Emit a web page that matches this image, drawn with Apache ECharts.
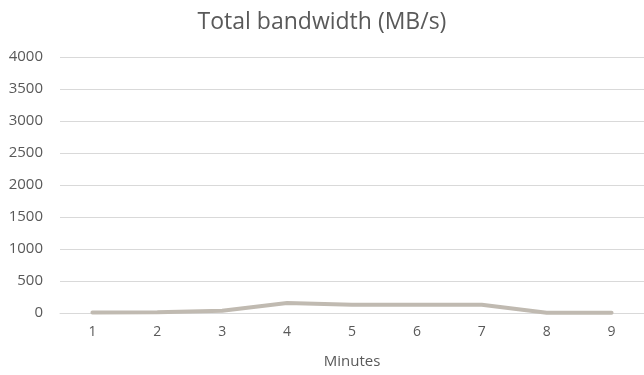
<!DOCTYPE html>
<html>
<head>
<meta charset="utf-8">
<script src="https://cdn.jsdelivr.net/npm/echarts@6/dist/echarts.min.js"></script>
<style>
  html, body { margin: 0; padding: 0; background: #fff; }
  #chart { width: 644px; height: 375px; }
</style>
</head>
<body>
<div id="chart"></div>
<script>
var minutes = ['1', '2', '3', '4', '5', '6', '7', '8', '9'];
var bandwidth = [8, 10, 36, 155, 130, 128, 128, 5, 5];
var yTicks = { min: 0, max: 4000, interval: 500 };

var chart = echarts.init(document.getElementById('chart'));
var option = {
    animation: false,
    title: {
        text: 'Total bandwidth (MB/s)',
        left: 'center',
        top: 6,
        textStyle: {
            fontFamily: 'Open Sans',
            fontSize: 23,
            fontWeight: 'normal',
            color: '#595959'
        }
    },
    grid: {
        left: 60,
        width: 586,
        top: 57,
        bottom: 62
    },
    xAxis: {
        type: 'category',
        data: minutes,
        boundaryGap: true,
        name: 'Minutes',
        nameLocation: 'middle',
        nameGap: 41,
        nameTextStyle: { fontFamily: 'Open Sans', fontSize: 15, color: '#595959' },
        axisLine: { lineStyle: { color: '#d9d9d9', width: 1 } },
        axisTick: { show: false },
        axisLabel: { fontFamily: 'Open Sans', fontSize: 14, color: '#595959', margin: 12 }
    },
    yAxis: {
        type: 'value',
        min: yTicks.min,
        max: yTicks.max,
        interval: yTicks.interval,
        axisLine: { show: false },
        axisTick: { show: false },
        axisLabel: {
            fontFamily: 'Open Sans',
            fontSize: 15,
            color: '#595959',
            margin: 17,
            formatter: function (v) { return String(v); }
        },
        splitLine: { lineStyle: { color: '#d9d9d9', width: 1 } }
    },
    series: [
        {
            name: 'Total bandwidth',
            type: 'line',
            data: bandwidth,
            symbol: 'none',
            lineStyle: { color: '#c0bab1', width: 4, cap: 'round' }
        }
    ]
};
chart.setOption(option);
</script>
</body>
</html>
